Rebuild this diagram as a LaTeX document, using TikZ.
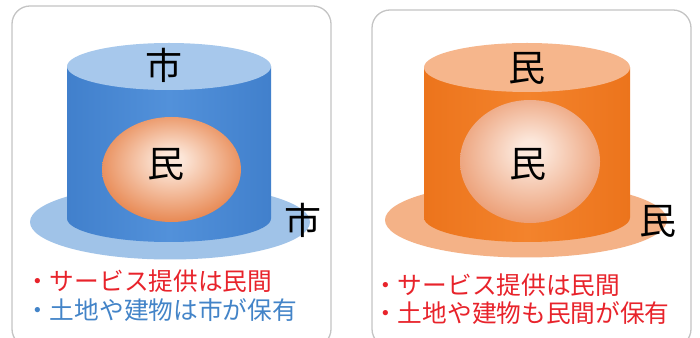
\documentclass[tikz,border=0pt]{standalone}
\usepackage{fontspec}
\setmainfont{Noto Sans CJK JP}
\definecolor{frame}{HTML}{C4C4C4}
\definecolor{blueedge}{HTML}{4180CC}
\definecolor{bluemid}{HTML}{5291DA}
\definecolor{bluetop}{HTML}{A7C8EC}
\definecolor{bluebase}{HTML}{A0C3E8}
\definecolor{orangeedge}{HTML}{EC741C}
\definecolor{orangemid}{HTML}{F3832C}
\definecolor{orangetop}{HTML}{F6B68C}
\definecolor{orangebase}{HTML}{F4B287}
\definecolor{orbin}{HTML}{FCE6D8}
\definecolor{orbout}{HTML}{E88A55}
\definecolor{orbinb}{HTML}{FCE8DC}
\definecolor{orboutb}{HTML}{ECA078}
\definecolor{textred}{HTML}{E8232B}
\definecolor{textblue}{HTML}{4384C8}
% radial shadings for the two spheres (light spot slightly above centre)
\pgfdeclareradialshading{orbA}{\pgfpoint{0bp}{5bp}}{color(0bp)=(orbin); color(4bp)=(orbin); color(27bp)=(orbout); color(50bp)=(orbout)}
\pgfdeclareradialshading{orbB}{\pgfpoint{0bp}{5bp}}{color(0bp)=(orbinb); color(4bp)=(orbinb); color(27bp)=(orboutb); color(50bp)=(orboutb)}
\tikzset{
  panel/.style={draw=frame, line width=1.3pt, fill=white, rounded corners=18pt},
  biglabel/.style={inner sep=0pt, font=\fontsize{37}{37}\selectfont},
  noteline/.style={inner sep=0pt, anchor=west, font=\fontsize{24.7}{24.7}\selectfont},
}
\begin{document}
\begin{tikzpicture}[x=1pt,y=1pt]
\useasboundingbox (0,0) rectangle (700,337);
\begin{scope}
\clip (0,0) rectangle (700,337);
% panels
\draw[panel] (12,331) rectangle (331,-10);
\draw[panel] (372,327) rectangle (691,-10);

% ---- left: public-owned cylinder ----
\fill[bluebase] (170,115) ellipse[x radius=140, y radius=37.5];
\shade[left color=blueedge, right color=blueedge, middle color=bluemid]
  (67,270.5) -- (67,118.5) arc[start angle=180, end angle=360, x radius=102, y radius=23.5] -- (271,270.5) -- cycle;
\fill[bluetop] (169,270.5) ellipse[x radius=102, y radius=23.5];
\shade[shading=orbA] (171.5,167.5) ellipse[x radius=69.5, y radius=52.5];

% ---- right: private-owned cylinder ----
\fill[orangebase] (526,117) ellipse[x radius=141, y radius=37.5];
\shade[left color=orangeedge, right color=orangeedge, middle color=orangemid]
  (424,269.5) -- (424,119.5) arc[start angle=180, end angle=360, x radius=103, y radius=24.5] -- (630,269.5) -- cycle;
\fill[orangetop] (527,269.5) ellipse[x radius=103, y radius=24.5];
\shade[shading=orbB] (530,175.5) ellipse[x radius=70, y radius=61.5];
\end{scope}

% labels
\node[biglabel] (ltop) at (164,272) {市};
\node[biglabel] (lorb) at (166,173) {民};
\node[biglabel] (lbase) at (303,117) {市};
\node[biglabel] (rtop) at (527,269) {民};
\node[biglabel] (rorb) at (528,173) {民};
\node[biglabel] (rbase) at (658,116) {民};

% notes
\node[noteline, text=textred] (lnote1) at (25,56) {・サービス提供は民間};
\node[noteline, text=textblue] (lnote2) at (25,27) {・土地や建物は市が保有};
\node[noteline, text=textred] (rnote1) at (373,52) {・サービス提供は民間};
\node[noteline, text=textred] (rnote2) at (373,24) {・土地や建物も民間が保有};
\end{tikzpicture}
\end{document}
